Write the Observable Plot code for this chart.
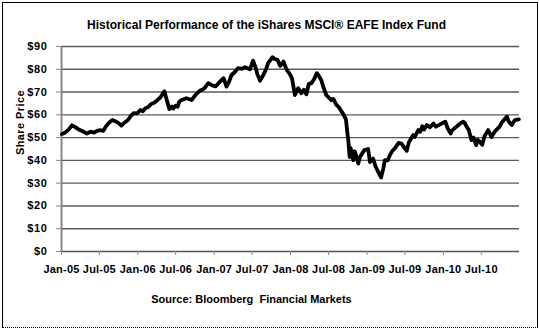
<!DOCTYPE html>
<html>
<head>
<meta charset="utf-8">
<script src="https://cdn.jsdelivr.net/npm/d3@7"></script>
<script src="https://cdn.jsdelivr.net/npm/@observablehq/plot@0.6"></script>
<style>
  html, body { margin: 0; padding: 0; background: #fff; }
  #wrap { position: relative; width: 539px; height: 333px; overflow: hidden; }
  #border { position: absolute; left: 2px; top: 2px; width: 534px; height: 324px;
            border: 1px solid #000; border-bottom: 1px dotted #000; box-sizing: content-box; }
  #chart { position: absolute; left: 0; top: 0; }
  svg { overflow: visible; }
  #chart g[aria-label="x-axis tick label"] text { letter-spacing: 0.2px; }
  #chart g[aria-label="y-axis tick label"] text { letter-spacing: 0.6px; }
  #chart g.ylab text { letter-spacing: 0.4px; }
</style>
</head>
<body>
<div id="wrap"><div id="border"></div><div id="chart"></div></div>
<script>
const titleText = "Historical Performance of the iShares MSCI\u00AE EAFE Index Fund";
const sourceText = "Source: Bloomberg  Financial Markets";
const yLabel = "Share Price";

const dates = [
  "2005-01-03","2005-01-17","2005-02-05","2005-02-20","2005-03-08","2005-03-24","2005-04-12","2005-05-02",
  "2005-05-20","2005-06-06","2005-06-20","2005-07-05","2005-07-20","2005-08-03","2005-08-16","2005-09-01",
  "2005-09-15","2005-09-28","2005-10-14","2005-10-28","2005-11-15","2005-11-28","2005-12-12","2005-12-28",
  "2006-01-13","2006-01-25","2006-02-06","2006-02-20","2006-03-06","2006-03-20","2006-04-03","2006-04-20",
  "2006-05-08","2006-05-18","2006-06-01","2006-06-13","2006-06-20","2006-06-30","2006-07-10","2006-07-17",
  "2006-07-25","2006-08-08","2006-08-21","2006-09-15","2006-10-06","2006-10-25","2006-11-14","2006-12-04",
  "2006-12-20","2007-01-08","2007-01-22","2007-02-15","2007-03-01","2007-03-13","2007-03-25","2007-04-10",
  "2007-04-25","2007-05-13","2007-05-28","2007-06-21","2007-07-06","2007-07-19","2007-07-26","2007-08-08",
  "2007-08-24","2007-09-04","2007-09-16","2007-10-07","2007-10-17","2007-10-31","2007-11-13","2007-11-28",
  "2007-12-14","2007-12-28","2008-01-08","2008-01-15","2008-01-22","2008-02-07","2008-02-22","2008-03-05",
  "2008-03-17","2008-03-28","2008-04-10","2008-04-22","2008-05-06","2008-05-14","2008-05-27","2008-06-05",
  "2008-06-20","2008-07-03","2008-07-14","2008-07-24","2008-08-08","2008-08-18","2008-09-02","2008-09-12",
  "2008-09-22","2008-09-29","2008-10-03","2008-10-10","2008-10-14","2008-10-17","2008-10-27","2008-11-03",
  "2008-11-07","2008-11-20","2008-11-28","2008-12-19","2009-01-06","2009-01-15","2009-01-30","2009-02-12",
  "2009-03-09","2009-03-20","2009-03-27","2009-04-10","2009-04-20","2009-05-01","2009-05-13","2009-06-01",
  "2009-06-15","2009-06-25","2009-07-10","2009-07-20","2009-08-10","2009-08-17","2009-09-03","2009-09-12",
  "2009-09-22","2009-09-30","2009-10-14","2009-10-28","2009-11-15","2009-11-26","2009-12-16","2010-01-10",
  "2010-01-22","2010-02-05","2010-02-12","2010-03-04","2010-03-20","2010-04-06","2010-04-13","2010-04-22",
  "2010-05-02","2010-05-15","2010-05-25","2010-06-07","2010-06-14","2010-06-25","2010-07-06","2010-07-16",
  "2010-08-03","2010-08-19","2010-09-02","2010-09-27","2010-10-10","2010-11-01","2010-11-08","2010-11-24",
  "2010-12-09","2010-12-28"
];
const prices = [
  51.6,52.1,53.6,55.4,54.6,53.6,52.8,51.8,
  52.6,52.2,53.0,53.3,53.0,55.1,56.5,57.7,
  57.2,56.6,55.3,56.5,57.7,59.5,60.7,60.6,
  62.1,61.6,62.9,63.4,64.8,65.3,66.3,67.8,
  70.3,66.9,62.5,63.6,62.8,64.0,63.5,65.5,
  66.3,66.8,67.3,66.5,69.0,70.6,71.5,73.9,
  73.0,72.5,73.9,76.1,72.4,74.5,77.5,78.8,
  80.5,80.2,80.9,80.0,83.8,80.5,78.0,75.0,
  77.5,79.5,82.7,85.3,84.5,84.1,81.5,83.4,
  79.7,78.0,76.1,72.5,68.7,71.7,69.5,71.0,
  69.0,73.5,73.9,75.5,78.3,77.3,75.3,72.5,
  68.7,67.5,66.5,67.0,64.3,63.5,61.4,59.9,
  58.0,52.0,48.9,41.5,45.5,44.5,40.1,44.0,
  43.0,38.6,41.5,44.5,45.0,39.3,40.8,37.0,
  32.5,36.5,40.1,40.0,42.3,44.0,45.2,47.7,
  47.4,46.0,44.2,48.0,51.1,50.3,53.3,52.6,
  55.0,53.5,55.5,54.5,56.2,54.8,55.8,57.0,
  54.0,51.8,53.2,54.8,56.0,57.0,56.5,54.8,
  53.5,48.9,50.0,46.7,49.0,48.1,46.9,50.5,
  53.3,50.3,52.5,54.8,57.0,59.2,57.3,55.5,
  57.7,58.0
];

const xTickDates = ["2005-01-01","2005-07-01","2006-01-01","2006-07-01","2007-01-01","2007-07-01",
                    "2008-01-01","2008-07-01","2009-01-01","2009-07-01","2010-01-01","2010-07-01"];
const xTickLabels = ["Jan-05","Jul-05","Jan-06","Jul-06","Jan-07","Jul-07",
                     "Jan-08","Jul-08","Jan-09","Jul-09","Jan-10","Jul-10"];
const yTicks = [0,10,20,30,40,50,60,70,80,90];
const yTickLabels = ["$0","$10","$20","$30","$40","$50","$60","$70","$80","$90"];

const data = dates.map((d, i) => ({date: new Date(d + "T00:00:00Z"), price: prices[i]}));
const xTicks = xTickDates.map(d => new Date(d + "T00:00:00Z"));

const font = "Liberation Sans, Arial, sans-serif";

const chart = Plot.plot({
  width: 539,
  height: 333,
  marginLeft: 61,
  marginRight: 20,
  marginTop: 46,
  marginBottom: 82,
  style: {fontFamily: font, fontSize: "11px", fontWeight: "bold", color: "#000", background: "transparent", overflow: "visible"},
  x: {type: "utc", domain: [new Date("2005-01-01T00:00:00Z"), new Date("2010-12-31T00:00:00Z")]},
  y: {domain: [0, 90]},
  marks: [
    Plot.gridY(yTicks.filter(d => d > 0), {stroke: "#5a5a5a", strokeOpacity: 1, strokeWidth: 1.4}),
    Plot.ruleY([0], {stroke: "#555", strokeWidth: 1.4}),
    Plot.ruleX([new Date("2005-01-01T00:00:00Z")], {stroke: "#888", strokeWidth: 2}),
    Plot.axisY({ticks: yTicks, tickFormat: (d) => yTickLabels[yTicks.indexOf(d)], tickSize: 5, tickPadding: 9,
                stroke: "#888", label: null, fontWeight: "bold"}),
    Plot.axisX({ticks: xTicks, tickFormat: (d) => xTickLabels[xTicks.findIndex(t => +t === +d)],
                tickSize: 4, tickPadding: 10, stroke: "#888", label: null, fontWeight: "bold"}),
    Plot.line(data, {x: "date", y: "price", stroke: "#000", strokeWidth: 3.8, strokeLinejoin: "round", strokeLinecap: "round"}),
    Plot.text([titleText], {frameAnchor: "top", dx: -24, dy: -26, text: d => d, fontSize: 12, fontWeight: "bold"}),
    Plot.text([sourceText], {frameAnchor: "bottom", dx: -39, dy: 51, text: d => d, fontSize: 11, fontWeight: "bold"}),
    Plot.text([yLabel], {frameAnchor: "left", dx: -41, dy: 6, rotate: -90, text: d => d, fontSize: 11, fontWeight: "bold", className: "ylab"})
  ]
});
document.getElementById("chart").appendChild(chart);
</script>
</body>
</html>
